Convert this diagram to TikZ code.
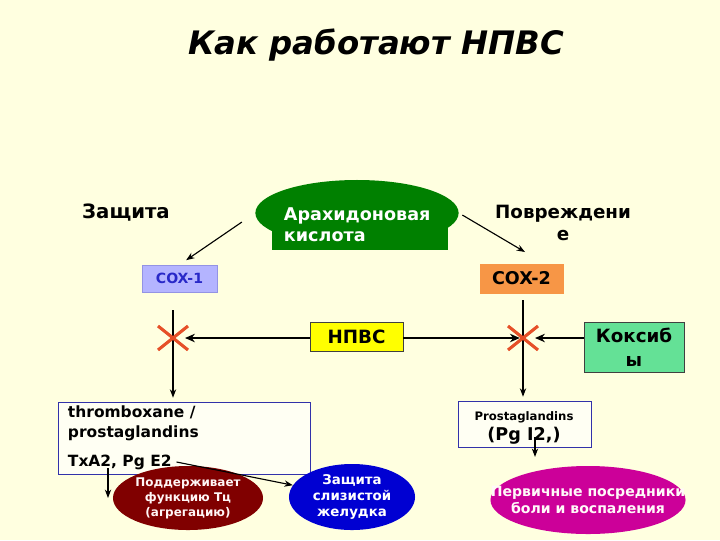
\documentclass[tikz,border=0pt]{standalone}
\usepackage{fontspec}
\setmainfont{DejaVu Sans}
\usetikzlibrary{shapes.geometric,arrows.meta}

\definecolor{bgcream}{RGB}{255,255,224}
\definecolor{acidgreen}{RGB}{0,128,0}
\definecolor{coxlilac}{RGB}{180,180,255}
\definecolor{coxblue}{RGB}{40,40,200}
\definecolor{coxorange}{RGB}{247,150,70}
\definecolor{nsaidyellow}{RGB}{255,255,0}
\definecolor{coxibgreen}{RGB}{100,225,150}
\definecolor{boxnavy}{RGB}{50,50,170}
\definecolor{crossred}{RGB}{230,80,40}
\definecolor{tcred}{RGB}{128,0,0}
\definecolor{mucblue}{RGB}{0,0,210}
\definecolor{painpink}{RGB}{204,0,153}

\tikzset{
  tag/.style={draw=black!75, inner sep=0pt},
  blob/.style={ellipse, inner sep=0pt},
  blobtext/.style={text=white, align=center},
  conn/.style={-{Stealth[length=6pt,width=4.5pt]}, line width=0.8pt},
  block/.style={-{Stealth[length=7pt,width=6pt]}, line width=2pt},
  cross/.style={crossred, line width=2.2pt},
}

\begin{document}
\begin{tikzpicture}[x=0.025cm, y=-0.025cm, font=\bfseries]
\fill[bgcream] (0,0) rectangle (720,540);
\useasboundingbox (0,0) rectangle (720,540);

% title
\node[font=\bfseries\itshape\fontsize{23}{28}\selectfont] (title) at (376,45) {Как работают НПВС};

% top row
\node[font=\bfseries\fontsize{14}{17}\selectfont] (defence) at (126,213) {Защита};
\node[blob, fill=acidgreen, minimum width=5.08cm, minimum height=1.65cm] (acidell) at (357,213) {};
\fill[acidgreen] (272,205) rectangle (448,250);
\node[anchor=west, text=white, align=left, font=\bfseries\fontsize{12.5}{15}\selectfont] (acid) at (279,225) {Арахидоновая\\кислота};
\node[align=center, font=\bfseries\fontsize{13}{15.5}\selectfont] (injury) at (563,223) {Повреждени\\е};

\node[tag, fill=coxlilac, draw=coxblue!50, text=coxblue, minimum width=1.875cm, minimum height=0.675cm, font=\bfseries\fontsize{10}{12}\selectfont] (cox1) at (179.5,278.5) {COX-1};
\node[tag, fill=coxorange, draw=coxorange, minimum width=2.075cm, minimum height=0.725cm, font=\bfseries\fontsize{12.5}{14}\selectfont] (cox2) at (521.5,278.5) {COX-2};

\coordinate (c2tip) at (525,252);
\draw[conn, shorten <=0.4cm, shorten >=0.2cm] (acidell.west) -- (cox1.north);
\draw[conn, shorten <=0.1cm] (acidell.east) -- (c2tip);

% inhibitors
\node[tag, fill=nsaidyellow, minimum width=2.325cm, minimum height=0.725cm, font=\bfseries\fontsize{13}{15}\selectfont] (nsaid) at (356.5,337) {НПВС};
\node[tag, fill=coxibgreen, minimum width=2.5cm, minimum height=1.25cm, align=center, font=\bfseries\fontsize{13}{17}\selectfont] (coxib) at (634,347) {Коксиб\\ы};

\coordinate (x1) at (173,338);
\coordinate (x2) at (523,338);
\coordinate (v1) at (173,310);

% products
\node[draw=boxnavy, fill=white!60!bgcream, minimum width=6.3cm, minimum height=1.8cm] (thr) at (184,438) {};
\node[anchor=west, align=left, font=\bfseries\fontsize{11}{14}\selectfont] (thrtext) at (63,423) {thromboxane /\\prostaglandins};
\node[anchor=west, font=\bfseries\fontsize{11}{14}\selectfont] (txa) at (63,462) {TxA2, Pg E2};

\node[draw=boxnavy, fill=white!60!bgcream, minimum width=3.325cm, minimum height=1.15cm] (pg) at (524.5,424) {};
\node[font=\bfseries\fontsize{8.3}{10}\selectfont] (pgname) at (524,417) {Prostaglandins};
\node[font=\bfseries\fontsize{12.5}{14}\selectfont] (pgi) at (524,436) {(Pg I2,)};

\draw[conn, shorten >=0.1cm] (v1) -- (v1 |- thr.north);
\draw[conn, shorten <=0.18cm, shorten >=0.1cm] (x2 |- cox2.south) -- (x2 |- pg.north);
\draw[block, shorten >=0.3cm] (nsaid.west |- x1) -- (x1);
\draw[block, shorten >=0.08cm] (nsaid.east |- x2) -- (x2);
\draw[block, shorten >=0.3cm] (coxib.west |- x2) -- (x2);

\draw[cross] (x1) ++(-15,-12) -- ++(30,24) (x1) ++(-15,12) -- ++(30,-24);
\draw[cross] (x2) ++(-15,-12) -- ++(30,24) (x2) ++(-15,12) -- ++(30,-24);

% effects
\node[blob, fill=tcred, minimum width=3.75cm, minimum height=1.6cm] (tcell) at (188,498) {};
\node[blobtext, text=white!85!pink, font=\bfseries\fontsize{8.5}{10.7}\selectfont] (tctext) at (tcell) {Поддерживает\\функцию Тц\\(агрегацию)};
\node[blob, fill=mucblue, minimum width=3.15cm, minimum height=1.65cm] (mucell) at (352,497) {};
\node[blobtext, font=\bfseries\fontsize{9.5}{11.7}\selectfont] (muctext) at (mucell) {Защита\\слизистой\\желудка};
\node[blob, fill=painpink, minimum width=4.875cm, minimum height=1.7cm] (painell) at (588,500) {};
\node[blobtext, text=white!90!pink, font=\bfseries\fontsize{10}{12}\selectfont] (paintext) at (painell) {Первичные посредники\\боли и воспаления};

\coordinate (txdown) at (108,468);
\coordinate (pgdown) at (535,437);
\draw[conn] (txdown) -- (txdown |- tcell.west);
\draw[conn] (txa.east) -- (mucell);
\draw[conn, shorten >=0.22cm] (pgdown) -- (pgdown |- painell.north);
\end{tikzpicture}
\end{document}
